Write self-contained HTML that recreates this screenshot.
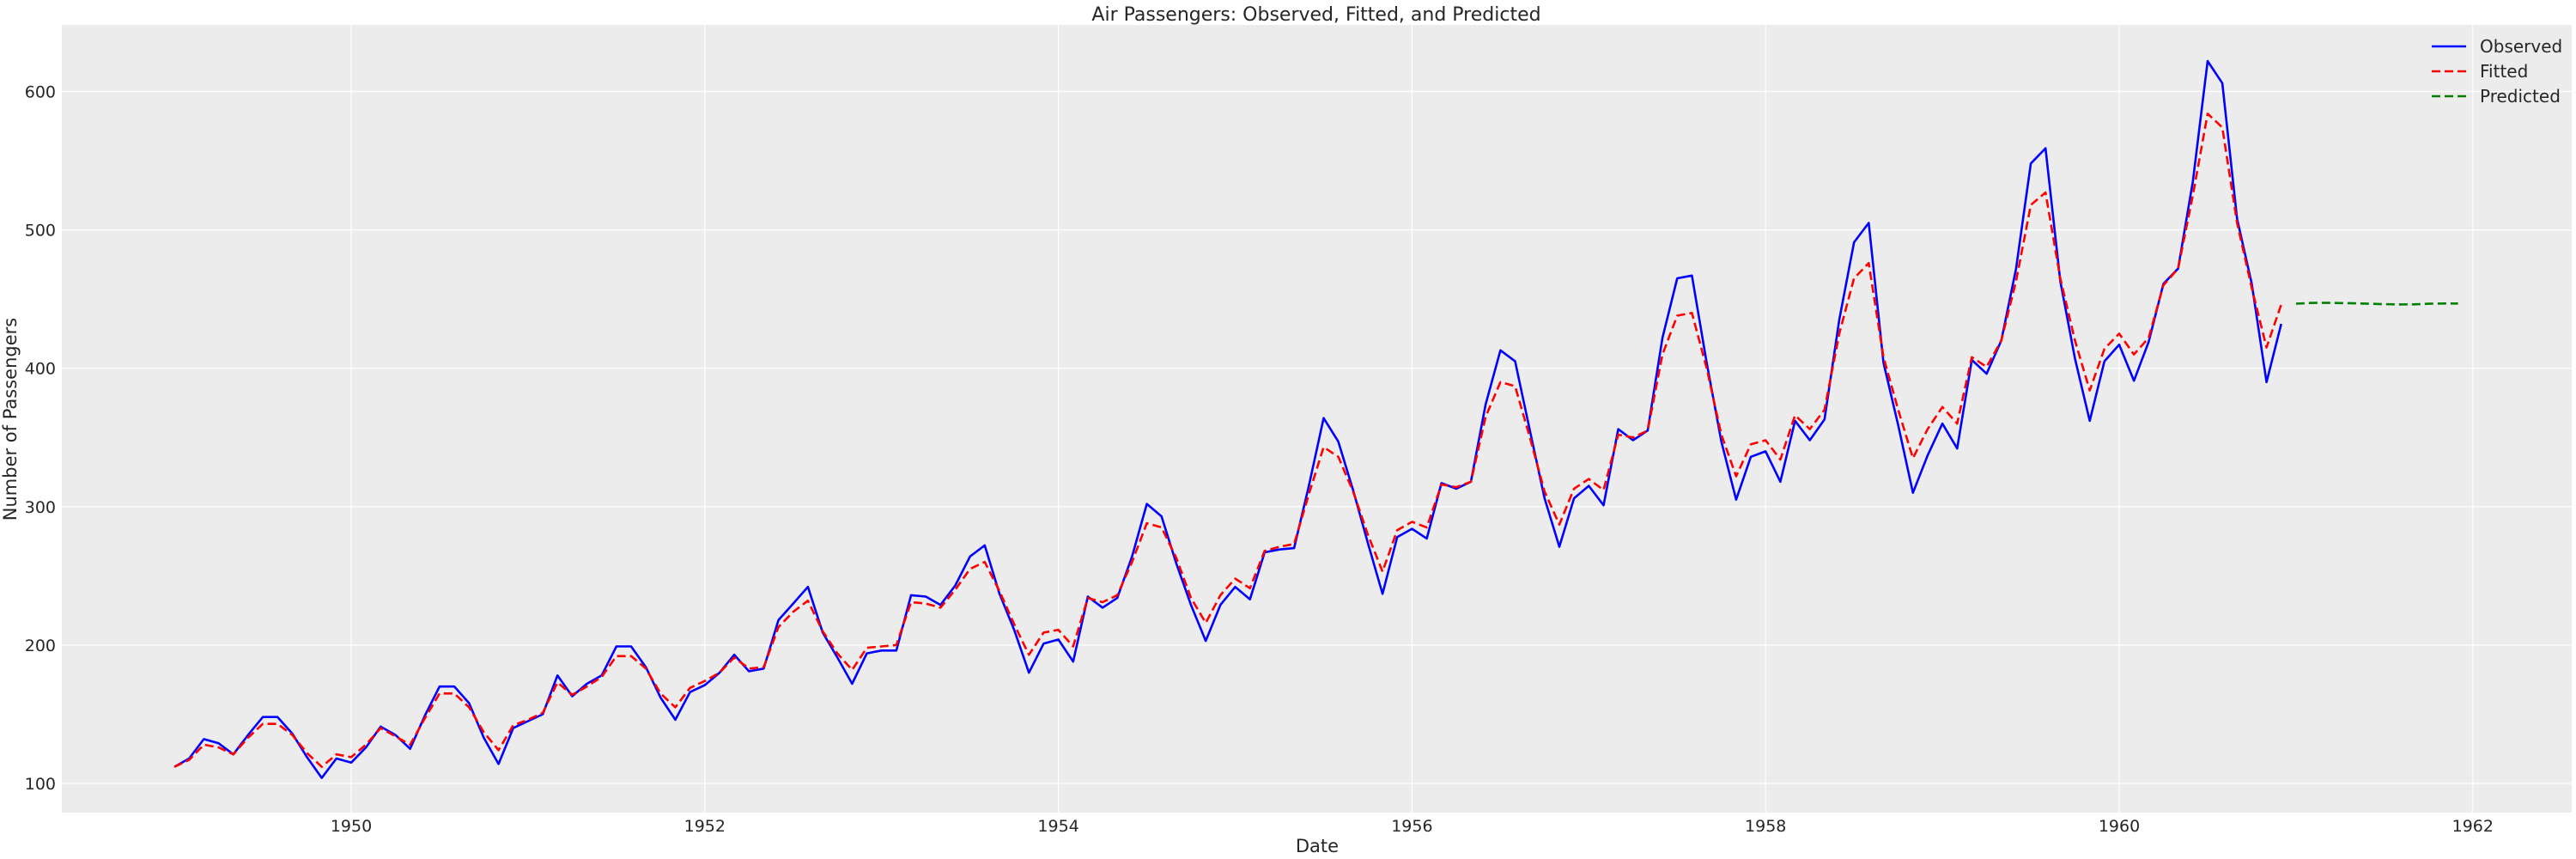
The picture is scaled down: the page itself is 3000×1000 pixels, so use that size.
<!DOCTYPE html>
<html><head><meta charset="utf-8"><title>Air Passengers</title>
<style>
html,body{margin:0;padding:0;background:#fff;}
svg{display:block;font-family:"DejaVu Sans","Liberation Sans",sans-serif;}
</style></head>
<body>
<svg id="chart" width="3000" height="1000" viewBox="0 0 3000 1000" xmlns="http://www.w3.org/2000/svg">
<rect x="72" y="29" width="2923" height="917" fill="#ececec"/>
<g id="grid"></g>
<g id="series"></g>
<g id="ticks"></g>
<text x="1533" y="24" font-size="22" text-anchor="middle" fill="#262626">Air Passengers: Observed, Fitted, and Predicted</text>
<text x="1534" y="992" font-size="21" text-anchor="middle" fill="#262626">Date</text>
<text x="19" y="488" font-size="21" text-anchor="middle" fill="#262626" transform="rotate(-90 19 488)">Number of Passengers</text>
<g>
<line x1="2832" y1="54" x2="2872" y2="54" stroke="#0000ff" stroke-width="2.6"/>
<text x="2888" y="61" font-size="20" fill="#262626">Observed</text>
<line x1="2832" y1="83" x2="2872" y2="83" stroke="#ff0000" stroke-width="2.6" stroke-dasharray="10,5"/>
<text x="2888" y="90" font-size="20" fill="#262626">Fitted</text>
<line x1="2832" y1="112" x2="2872" y2="112" stroke="#008000" stroke-width="2.6" stroke-dasharray="10,5"/>
<text x="2888" y="119" font-size="20" fill="#262626">Predicted</text>
</g>
</svg>
<script>
const observed = [
112,118,132,129,121,135,148,148,136,119,104,118,
115,126,141,135,125,149,170,170,158,133,114,140,
145,150,178,163,172,178,199,199,184,162,146,166,
171,180,193,181,183,218,230,242,209,191,172,194,
196,196,236,235,229,243,264,272,237,211,180,201,
204,188,235,227,234,264,302,293,259,229,203,229,
242,233,267,269,270,315,364,347,312,274,237,278,
284,277,317,313,318,374,413,405,355,306,271,306,
315,301,356,348,355,422,465,467,404,347,305,336,
340,318,362,348,363,435,491,505,404,359,310,337,
360,342,406,396,420,472,548,559,463,407,362,405,
417,391,419,461,472,535,622,606,508,461,390,432];
const fitted = [
112,117,128,126,121,133,143,143,135,122,112,121,
119,128,140,134,128,147,165,165,155,137,124,142,
146,151,173,164,170,177,192,192,183,165,155,169,
174,180,191,183,184,213,224,232,210,194,182,198,
199,200,231,230,227,240,255,260,239,215,193,209,
211,199,234,231,236,260,288,285,263,234,216,236,
248,241,268,271,273,309,343,336,311,280,253,283,
289,285,316,314,318,365,390,387,350,311,287,313,
320,312,352,350,355,410,438,440,400,352,322,345,
348,334,366,356,370,425,465,476,408,370,335,356,
372,360,408,401,420,463,518,527,465,420,384,414,
425,410,422,460,472,525,584,574,505,458,415,446];
const predicted = [446.7,447.2,447.3,447.1,446.9,446.6,446.3,446.1,446.2,446.6,446.8,446.8];
const startYear = 1949;
const predStartYear = 1961;
const yTicks = [100,200,300,400,500,600];
const xTicks = [1950,1952,1954,1956,1958,1960,1962];

const NS = "http://www.w3.org/2000/svg";
function xScale(t){ return 409 + (t - 1950) * 205.9; }
function yScale(v){ return 912 - (v - 100) * 1.611; }
const grid = document.getElementById('grid');
const ticks = document.getElementById('ticks');
const series = document.getElementById('series');

yTicks.forEach(v => {
  const l = document.createElementNS(NS,'line');
  
  
  l.setAttribute('x1',72); l.setAttribute('x2',2995);
  l.setAttribute('y1',yScale(v)); l.setAttribute('y2',yScale(v));
  l.setAttribute('stroke','#fff'); l.setAttribute('stroke-width','1.2');
  grid.appendChild(l);
  const t = document.createElementNS(NS,'text');
  
  
  t.setAttribute('x',65); t.setAttribute('y',yScale(v)+7);
  t.setAttribute('text-anchor','end'); t.setAttribute('font-size','19'); t.setAttribute('fill','#262626');
  t.textContent = v;
  ticks.appendChild(t);
});
xTicks.forEach(y => {
  const l = document.createElementNS(NS,'line');
  
  
  l.setAttribute('x1',xScale(y)); l.setAttribute('x2',xScale(y));
  l.setAttribute('y1',29); l.setAttribute('y2',946);
  l.setAttribute('stroke','#fff'); l.setAttribute('stroke-width','1.2');
  grid.appendChild(l);
  const t = document.createElementNS(NS,'text');
  
  
  t.setAttribute('x',xScale(y)); t.setAttribute('y',968);
  t.setAttribute('text-anchor','middle'); t.setAttribute('font-size','19'); t.setAttribute('fill','#262626');
  t.textContent = y;
  ticks.appendChild(t);
});
function pts(arr, y0){ return arr.map((v,i)=> xScale(y0 + i/12).toFixed(1)+','+yScale(v).toFixed(1)).join(' '); }
function addLine(arr, y0, color, dash, name){
  const p = document.createElementNS(NS,'polyline');
  
  
  p.setAttribute('points', pts(arr, y0));
  p.setAttribute('fill','none'); p.setAttribute('stroke',color); p.setAttribute('stroke-width','2.6');
  p.setAttribute('stroke-linejoin','round');
  if (dash) p.setAttribute('stroke-dasharray', dash);
  series.appendChild(p);
}
addLine(observed, startYear, '#0000ff', null, 'observed-line');
addLine(fitted, startYear, '#ff0000', '10,5', 'fitted-line');
addLine(predicted, predStartYear, '#008000', '10,5', 'predicted-line');
</script>
</body></html>
